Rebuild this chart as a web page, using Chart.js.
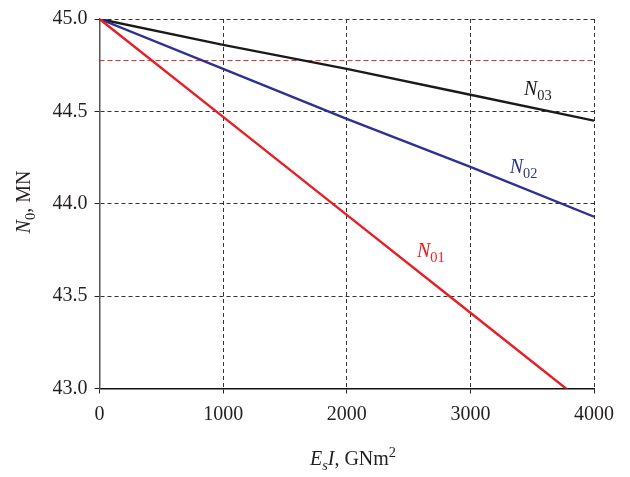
<!DOCTYPE html>
<html>
<head>
<meta charset="utf-8">
<script src="https://cdn.jsdelivr.net/npm/chart.js@4.4.1/dist/chart.umd.min.js"></script>
<style>
html,body{margin:0;padding:0;background:#fff;}
#wrap{width:630px;height:477px;position:relative;}
</style>
</head>
<body>
<div id="wrap"><canvas id="c" width="630" height="477"></canvas></div>
<script>
// ---- data ----
const xValues = [0, 1000, 2000, 3000, 4000];
const n01 = [45.0, 44.47, 43.94, 43.41, 42.88];
const n02 = [45.0, 44.73, 44.46, 44.20, 43.93];
const n03 = [45.0, 44.86, 44.73, 44.59, 44.45];
const refLevel = [44.775, 44.775];
const refX = [0, 4000];
const xTickValues = [0, 1000, 2000, 3000, 4000];
const yTickValues = [43.0, 43.5, 44.0, 44.5, 45.0];
const seriesNames = ['01', '02', '03'];

const FONT = '"Liberation Serif", "Times New Roman", serif';
const RED = '#ec1c24', BLUE = '#2e3192', BLACK = '#1a1a1a';

function pts(xs, ys){ return xs.map((x,i)=>({x:x, y:ys[i]})); }

// label anchors (data coordinates)
const lineLabels = [
  {sub: seriesNames[0], x: 2680, y: 43.745, color: RED},
  {sub: seriesNames[1], x: 3430, y: 44.20, color: BLUE},
  {sub: seriesNames[2], x: 3545, y: 44.62, color: BLACK}
];

function drawRich(ctx, parts, x, y, size){
  let total = 0;
  const widths = parts.map(p=>{
    const s = (p.sub||p.sup) ? size*0.72 : size;
    ctx.font = (p.italic?'italic ':'') + s + 'px ' + FONT;
    const w = ctx.measureText(p.t).width;
    total += w; return w;
  });
  let cx = x - total/2;
  parts.forEach((p,i)=>{
    const s = (p.sub||p.sup) ? size*0.72 : size;
    ctx.font = (p.italic?'italic ':'') + s + 'px ' + FONT;
    let dy = 0;
    if (p.sub) dy = size*0.25;
    if (p.sup) dy = -size*0.38;
    ctx.fillText(p.t, cx, y+dy);
    cx += widths[i];
  });
}

const textPlugin = {
  id: 'texts',
  afterDraw(chart){
    const ctx = chart.ctx;
    const xs = chart.scales.x, ys = chart.scales.y;
    ctx.save();
    ctx.textAlign = 'left';
    ctx.textBaseline = 'alphabetic';
    lineLabels.forEach(l=>{
      ctx.fillStyle = l.color;
      const px = xs.getPixelForValue(l.x), py = ys.getPixelForValue(l.y);
      drawRich(ctx, [{t:'N', italic:true},{t:l.sub, sub:true}], px, py + 6, 20);
    });
    ctx.fillStyle = '#231f20';
    drawRich(ctx, [{t:'E', italic:true},{t:'s', italic:true, sub:true},{t:'I', italic:true},{t:', GNm'},{t:'2', sup:true}], 353, 465, 20);
    ctx.save();
    ctx.translate(30, 202);
    ctx.rotate(-Math.PI/2);
    drawRich(ctx, [{t:'N', italic:true},{t:'0', sub:true},{t:', MN'}], 0, 0, 20);
    ctx.restore();
    ctx.restore();
  }
};

new Chart(document.getElementById('c'), {
  type: 'line',
  data: {
    datasets: [
      {data: pts(refX, refLevel), borderColor: '#ff2020', borderWidth: 1, borderDash: [5,3], pointRadius: 0, order: 4},
      {data: pts(xValues, n01), borderColor: RED, borderWidth: 2.4, pointRadius: 0, order: 1},
      {data: pts(xValues, n02), borderColor: BLUE, borderWidth: 2.4, pointRadius: 0, order: 2},
      {data: pts(xValues, n03), borderColor: BLACK, borderWidth: 2.4, pointRadius: 0, order: 3}
    ]
  },
  options: {
    responsive: false,
    animation: false,
    events: [],
    layout: {padding: {top: 15.5, right: 36, left: 0, bottom: 0}},
    plugins: {legend: {display: false}, tooltip: {enabled: false}},
    scales: {
      x: {
        type: 'linear', min: 0, max: 4000,
        afterBuildTicks(s){ s.ticks = xTickValues.map(v=>({value:v})); },
        afterFit(s){ s.height = 88.5; },
        ticks: {font: {family: FONT, size: 20}, color: '#231f20', padding: 9, maxRotation: 0,
                callback: v => String(v)},
        grid: {color: '#333', lineWidth: 1, tickLength: 5,
               tickColor: '#222', tickBorderDash: [], tickWidth: 1},
        border: {display: true, color: '#111', width: 1.5, dash: [4,3]}
      },
      y: {
        type: 'linear', min: 43, max: 45,
        afterBuildTicks(s){ s.ticks = yTickValues.map(v=>({value:v})); },
        afterFit(s){ s.width = 99.5; },
        ticks: {font: {family: FONT, size: 20}, color: '#231f20', padding: 7,
                callback: v => Number(v).toFixed(1)},
        grid: {color: '#333', lineWidth: 1, tickLength: 5,
               tickColor: '#222', tickBorderDash: [], tickWidth: 1},
        border: {display: true, color: '#555', width: 1.5, dash: [4,3]}
      }
    }
  },
  plugins: [textPlugin]
});
</script>
</body>
</html>
